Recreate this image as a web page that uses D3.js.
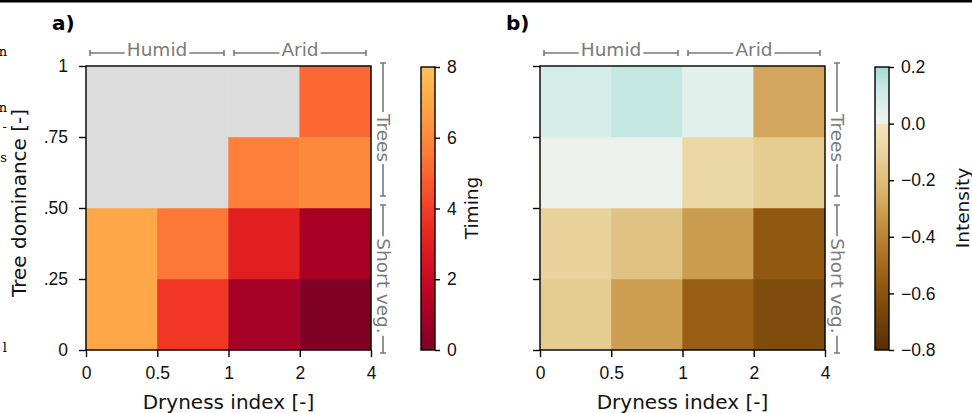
<!DOCTYPE html>
<html>
<head>
<meta charset="utf-8">
<script src="https://cdn.jsdelivr.net/npm/d3@7"></script>
<style>
  body { margin: 0; background: white; }
  svg { display: block; font-family: "DejaVu Sans", sans-serif; }
</style>
</head>
<body>
<div id="chart"></div>
<script>
// data
const drynessEdges = ["0", "0.5", "1", "2", "4"];
const dominanceTicks = [0, 0.25, 0.5, 0.75, 1];
const dominanceLabels = ["0", ".25", ".50", ".75", "1"];
// rows from bottom (0-.25) to top (.75-1), columns from dry index 0 to 4
const timing = [
  [7.0, 3.8, 0.95, 0.0],
  [7.0, 5.5, 3.0, 1.0],
  [null, null, 5.7, 6.0],
  [null, null, null, 5.1]
];
const intensity = [
  [-0.14, -0.31, -0.55, -0.64],
  [-0.11, -0.18, -0.32, -0.58],
  [0.01, 0.01, -0.08, -0.14],
  [0.09, 0.13, 0.05, -0.28]
];
const timingTicks = [0, 2, 4, 6, 8];
const intensityTicks = [-0.8, -0.6, -0.4, -0.2, 0.0, 0.2];

const W = 972, H = 413;
const svg = d3.select("#chart").append("svg").attr("width", W).attr("height", H);

// top border line from the cropped figure
svg.append("rect").attr("x", 0).attr("y", 0).attr("width", W).attr("height", 2.5).attr("fill", "black");

// left cut-off text fragments
const frags = [["n", 56], ["n", 112], ["-", 131], ["s", 162], ["l", 352]];
svg.selectAll("text.frag").data(frags).enter().append("text")
  .attr("class", "frag").attr("x", 7).attr("y", d => d[1])
  .attr("text-anchor", "end").style("font-family", "DejaVu Serif, serif")
  .style("font-size", "13px").text(d => d[0]);

const yTop = 66, yBot = 350, axW = 285;
const gray = "#7a7a7a";
const tickFont = "17.5px", labelFont = "20px", bracketFont = "18.5px";

// colour maps
const cmapA = v => d3.interpolateYlOrRd(1 - (v / 8) * 0.67);
const cmapB = v => v < 0 ? d3.interpolateBrBG(0.4 * (v + 0.8) / 0.8) : d3.interpolateBrBG(0.5 + 0.75 * v);

function panel(left, data, cmap, letter, showY) {
  const x = d3.scaleLinear().domain([0, 4]).range([left, left + axW]);
  const y = d3.scaleLinear().domain([0, 1]).range([yBot, yTop]);
  const g = svg.append("g");

  data.forEach((row, r) => {
    row.forEach((v, c) => {
      g.append("rect")
        .attr("x", x(c)).attr("y", y((r + 1) / 4))
        .attr("width", x(c + 1) - x(c)).attr("height", y(r / 4) - y((r + 1) / 4))
        .attr("fill", v === null ? "#dcdcdc" : cmap(v))
        .attr("stroke", v === null ? "#dcdcdc" : cmap(v)).attr("stroke-width", 0.5);
    });
  });

  g.append("rect").attr("x", left).attr("y", yTop).attr("width", axW).attr("height", yBot - yTop)
    .attr("fill", "none").attr("stroke", "black").attr("stroke-width", 1.4);

  // x axis
  const xa = g.append("g").attr("transform", `translate(0,${yBot})`)
    .call(d3.axisBottom(x).tickValues([0, 1, 2, 3, 4]).tickFormat(i => drynessEdges[i]).tickSize(7).tickPadding(10));
  xa.select(".domain").remove();
  xa.selectAll("line").attr("stroke-width", 1.4);
  xa.selectAll("text").style("font-size", tickFont).attr("fill", "#111");
  g.append("text").attr("x", left + axW / 2).attr("y", 409).attr("text-anchor", "middle")
    .style("font-size", labelFont).attr("fill", "#111").text("Dryness index [-]");

  // y axis
  const ya = g.append("g").attr("transform", `translate(${left},0)`)
    .call(d3.axisLeft(y).tickValues(dominanceTicks).tickFormat((d, i) => showY ? dominanceLabels[i] : "").tickSize(7).tickPadding(11));
  ya.select(".domain").remove();
  ya.selectAll("line").attr("stroke-width", 1.4);
  ya.selectAll("text").style("font-size", tickFont).attr("fill", "#111");
  if (showY) {
    g.append("text").attr("transform", `translate(19,${(yTop + yBot) / 2 - 5}) rotate(-90)`)
      .attr("text-anchor", "middle").attr("dominant-baseline", "central")
      .style("font-size", labelFont).attr("fill", "#111").text("Tree dominance [-]");
  }

  // panel letter
  g.append("text").attr("x", left - 34).attr("y", 30).style("font-size", "20px")
    .style("font-weight", "bold").text(letter);

  // horizontal brackets
  const hb = [["Humid", left + 4, left + 138], ["Arid", left + 148, left + 280]];
  hb.forEach(([t, a, b]) => {
    const cy = 53, mid = (a + b) / 2;
    const txt = g.append("text").attr("x", mid).attr("y", cy + 3).attr("text-anchor", "middle")
      .style("font-size", bracketFont).attr("fill", gray).text(t);
    const w = txt.node().getComputedTextLength();
    g.append("path").attr("fill", "none").attr("stroke", gray).attr("stroke-width", 1.6)
      .attr("d", `M${a},${cy - 3}V${cy + 3}M${a},${cy}H${mid - w / 2 - 2}M${mid + w / 2 + 2},${cy}H${b}M${b},${cy - 3}V${cy + 3}`);
  });

  // vertical brackets
  const bx = left + axW + 12;
  const vb = [["Trees", 63, 196, 138], ["Short veg.", 205, 353, 286]];
  vb.forEach(([t, a, b, mid]) => {
    const txt = g.append("text").attr("transform", `translate(${bx},${mid}) rotate(90)`)
      .attr("text-anchor", "middle").attr("dominant-baseline", "central")
      .style("font-size", bracketFont).attr("fill", gray).text(t);
    const w = txt.node().getComputedTextLength();
    g.append("path").attr("fill", "none").attr("stroke", gray).attr("stroke-width", 1.6)
      .attr("d", `M${bx - 3},${a}H${bx + 3}M${bx},${a}V${mid - w / 2 - 2}M${bx},${mid + w / 2 + 2}V${b}M${bx - 3},${b}H${bx + 3}`);
  });
}

function colorbar(left, domain, ticks, fmt, cmap, label, labelX, id, splitZero) {
  const cw = 14;
  const y = d3.scaleLinear().domain(domain).range([yBot, yTop + 1]);
  const grad = svg.append("defs").append("linearGradient").attr("id", id)
    .attr("x1", 0).attr("y1", 1).attr("x2", 0).attr("y2", 0);
  const n = 60;
  if (!splitZero) {
    for (let i = 0; i <= n; i++) {
      const v = domain[0] + (domain[1] - domain[0]) * i / n;
      grad.append("stop").attr("offset", i / n).attr("stop-color", cmap(v));
    }
  } else {
    // hard break at zero
    const o = (0 - domain[0]) / (domain[1] - domain[0]);
    for (let i = 0; i <= n; i++) {
      const v = domain[0] + (0 - domain[0]) * i / n;
      grad.append("stop").attr("offset", o * i / n).attr("stop-color", cmap(Math.min(v, -1e-6)));
    }
    for (let i = 0; i <= 20; i++) {
      const v = domain[1] * i / 20;
      grad.append("stop").attr("offset", o + (1 - o) * i / 20).attr("stop-color", cmap(v));
    }
  }
  svg.append("rect").attr("x", left).attr("y", y(domain[1])).attr("width", cw)
    .attr("height", y(domain[0]) - y(domain[1])).attr("fill", `url(#${id})`)
    .attr("stroke", "black").attr("stroke-width", 1.4);
  const ax = svg.append("g").attr("transform", `translate(${left + cw},0)`)
    .call(d3.axisRight(y).tickValues(ticks).tickFormat(fmt).tickSize(5).tickPadding(7));
  ax.select(".domain").remove();
  ax.selectAll("line").attr("stroke-width", 1.4);
  ax.selectAll("text").style("font-size", tickFont).attr("fill", "#111");
  svg.append("text").attr("transform", `translate(${labelX},${(yTop + yBot) / 2}) rotate(-90)`)
    .attr("text-anchor", "middle").attr("dominant-baseline", "central")
    .style("font-size", bracketFont).attr("fill", "#111").text(label);
}

panel(86, timing, cmapA, "a)", true);
panel(540, intensity, cmapB, "b)", false);
colorbar(421, [0, 8], timingTicks, d3.format("d"), cmapA, "Timing", 471, "gA", false);
colorbar(875, [-0.8, 0.2], intensityTicks, d => d3.format(".1f")(d).replace("-", "\u2212"), cmapB, "Intensity", 962, "gB", true);
</script>
</body>
</html>
